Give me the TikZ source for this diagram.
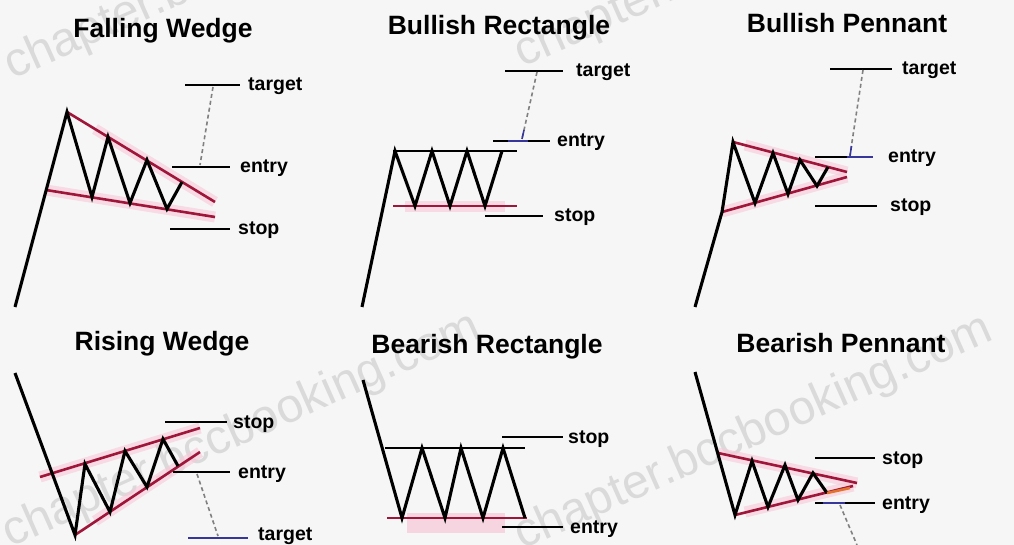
\documentclass[tikz,border=0pt]{standalone}
\usepackage{fontspec}
\setmainfont{Liberation Sans}
\definecolor{bg}{RGB}{246,246,246}
\definecolor{wedge}{RGB}{160,22,58}
\definecolor{hilite}{RGB}{248,200,215}
\definecolor{navyline}{RGB}{55,55,155}
\definecolor{orangeline}{RGB}{225,115,45}
\definecolor{wmark}{RGB}{218,218,218}
\begin{document}
\begin{tikzpicture}[x=1pt,y=-1pt,
  price/.style={line width=3.1pt, black, line join=miter, line cap=butt},
  bound/.style={line width=2.6pt, wedge, line cap=butt},
  level/.style={line width=2.6pt, black},
  hl/.style={line width=11pt, hilite, opacity=0.6},
  dashlink/.style={line width=1.6pt, gray, dash pattern=on 4pt off 3pt},
  lab/.style={anchor=base west, inner sep=0pt, font=\bfseries\fontsize{19.5}{22}\selectfont},
  ttl/.style={anchor=base, inner sep=0pt, font=\bfseries\fontsize{26.5}{30}\selectfont},
  wm/.style={anchor=base west, inner sep=0pt, rotate=24, text=wmark, font=\fontsize{48}{52}\selectfont}]
\useasboundingbox (0,0) rectangle (1014,545);
\fill[bg] (0,0) rectangle (1014,545);

% watermarks
\node[wm] (wm1) at (12,80) {chapter.bccbooking.com};
\node[wm] (wm2) at (522,68) {chapter.bccbooking.com};
\node[wm] (wm3) at (10,548) {chapter.bccbooking.com};
\node[wm] (wm4) at (522,550) {chapter.bccbooking.com};

% ================= Falling Wedge =================
\node[ttl] (t1) at (163,38) {Falling Wedge};
\draw[hl] (46,190) -- (215,217);
\draw[hl] (95,129) -- (215,202);
\draw[bound] (67,112) -- (215,202);
\draw[bound] (46,190) -- (215,217);
\draw[price] (15,307) -- (67,112) -- (92,197) -- (108,137) -- (130,203) -- (147,160) -- (167,209) -- (182,182);
\coordinate (fwTa) at (185,85); \coordinate (fwTb) at (240,85);
\coordinate (fwEa) at (172,167); \coordinate (fwEb) at (230,167);
\coordinate (fwSa) at (170,229); \coordinate (fwSb) at (230,229);
\draw[level] (fwTa) -- (fwTb);
\draw[level] (fwEa) -- (fwEb);
\draw[level] (fwSa) -- (fwSb);
\node[lab] (fwTl) at (248,91) {target};
\node[lab] (fwEl) at (240,173) {entry};
\node[lab] (fwSl) at (238,235) {stop};
\coordinate (fwD1) at (213,87); \coordinate (fwD2) at (200,165);
\draw[dashlink] (fwD1) -- (fwD2);

% ================= Bullish Rectangle =================
\node[ttl] (t2) at (499,35) {Bullish Rectangle};
\draw[hl] (405,207) -- (505,207);
\draw[line width=2.6pt] (393,151) -- (517,151);
\draw[bound] (393,206) -- (517,206);
\draw[price] (362,307) -- (395,151) -- (415,206) -- (432,151) -- (450,206) -- (467,151) -- (485,206) -- (502,151);
\coordinate (brTa) at (505,71); \coordinate (brTb) at (563,71);
\coordinate (brEa) at (493,141); \coordinate (brEb) at (550,141);
\coordinate (brSa) at (485,216); \coordinate (brSb) at (543,216);
\draw[level] (brTa) -- (brTb);
\draw[level] (brEa) -- (brEb);
\draw[line width=2.6pt, navyline] (508,141) -- (528,141);
\draw[level] (brSa) -- (brSb);
\node[lab] (brTl) at (576,77) {target};
\node[lab] (brEl) at (557,147) {entry};
\node[lab] (brSl) at (554,222) {stop};
\coordinate (brD1) at (537,72); \coordinate (brD2) at (522,139);
\draw[dashlink] (brD1) -- (brD2);
\draw[line width=1.6pt, navyline] (524,130) -- (522,139);

% ================= Bullish Pennant =================
\node[ttl] (t3) at (847,33) {Bullish Pennant};
\draw[hl] (745,145) -- (847,172);
\draw[hl] (722,212) -- (847,177);
\draw[bound] (733,142) -- (847,172);
\draw[bound] (722,212) -- (847,177);
\draw[price] (695,307) -- (722,212) -- (733,142) -- (755,203) -- (773,153) -- (788,194) -- (800,160) -- (817,186) -- (828,167);
\coordinate (bpTa) at (830,69); \coordinate (bpTb) at (892,69);
\coordinate (bpEa) at (815,157); \coordinate (bpEb) at (873,157);
\coordinate (bpSa) at (815,206); \coordinate (bpSb) at (877,206);
\draw[level] (bpTa) -- (bpTb);
\draw[level] (bpEa) -- (bpEb);
\draw[line width=2.6pt, navyline] (847,157) -- (873,157);
\draw[level] (bpSa) -- (bpSb);
\node[lab] (bpTl) at (902,75) {target};
\node[lab] (bpEl) at (888,163) {entry};
\node[lab] (bpSl) at (890,212) {stop};
\coordinate (bpD1) at (863,70); \coordinate (bpD2) at (850,155);
\draw[dashlink] (bpD1) -- (bpD2);
\draw[line width=1.6pt, navyline] (851.5,146) -- (850,156);

% ================= Rising Wedge =================
\node[ttl] (t4) at (162,350) {Rising Wedge};
\draw[hl] (40,477) -- (200,428);
\draw[hl] (95,521) -- (200,452);
\draw[bound] (40,477) -- (200,428);
\draw[bound] (75,535) -- (200,452);
\draw[price] (15,373) -- (75,535) -- (85,464) -- (110,512) -- (125,451) -- (147,487) -- (163,439) -- (178,466);
\coordinate (rwSa) at (165,422); \coordinate (rwSb) at (227,422);
\coordinate (rwEa) at (173,472); \coordinate (rwEb) at (230,472);
\coordinate (rwTa) at (188,538); \coordinate (rwTb) at (248,538);
\draw[level] (rwSa) -- (rwSb);
\draw[level] (rwEa) -- (rwEb);
\draw[line width=2.6pt, navyline] (rwTa) -- (rwTb);
\node[lab] (rwSl) at (233,428) {stop};
\node[lab] (rwEl) at (238,478) {entry};
\node[lab] (rwTl) at (258,540) {target};
\coordinate (rwD1) at (197,474); \coordinate (rwD2) at (218,536);
\draw[dashlink] (rwD1) -- (rwD2);

% ================= Bearish Rectangle =================
\node[ttl] (t5) at (487,353) {Bearish Rectangle};
\fill[hilite, opacity=0.7] (407,513) rectangle (505,533);
\draw[line width=2.6pt] (385,448) -- (525,448);
\draw[bound] (387,518) -- (527,518);
\draw[price] (363,380) -- (402,518) -- (422,448) -- (445,518) -- (461,448) -- (483,518) -- (503,448) -- (525,518);
\coordinate (beSa) at (502,437); \coordinate (beSb) at (563,437);
\coordinate (beEa) at (502,527); \coordinate (beEb) at (563,527);
\draw[level] (beSa) -- (beSb);
\draw[level] (beEa) -- (beEb);
\node[lab] (beSl) at (568,443) {stop};
\node[lab] (beEl) at (570,533) {entry};

% ================= Bearish Pennant =================
\node[ttl] (t6) at (841,352) {Bearish Pennant};
\draw[hl] (718,453) -- (857,483);
\draw[hl] (745,512) -- (853,486);
\draw[bound] (718,453) -- (857,483);
\draw[bound] (735,515) -- (853,486);
\draw[price] (695,372) -- (735,515) -- (752,461) -- (768,507) -- (785,465) -- (798,500) -- (813,473) -- (827,493);
\draw[line width=2.6pt, orangeline] (827,493) -- (850,488);
\coordinate (bnSa) at (815,458); \coordinate (bnSb) at (875,458);
\coordinate (bnEa) at (815,503); \coordinate (bnEb) at (875,503);
\draw[level] (bnSa) -- (bnSb);
\draw[level] (bnEa) -- (bnEb);
\draw[line width=2.6pt, navyline] (823,503) -- (845,503);
\node[lab] (bnSl) at (882,464) {stop};
\node[lab] (bnEl) at (882,509) {entry};
\coordinate (bnD1) at (840,505); \coordinate (bnD2) at (857,545);
\draw[dashlink] (bnD1) -- (bnD2);
\end{tikzpicture}
\end{document}
